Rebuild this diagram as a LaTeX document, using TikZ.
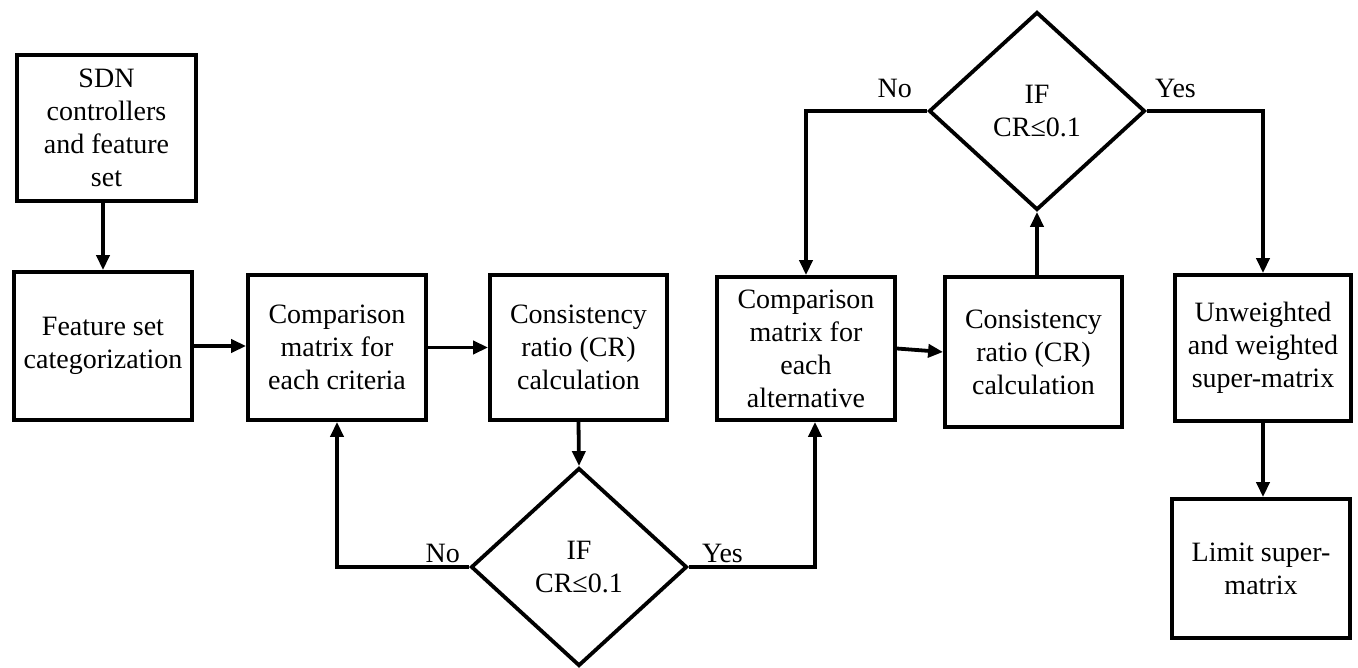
\documentclass[tikz,border=0pt]{standalone}
\usepackage{fontspec}
\setmainfont{Liberation Serif}
\usetikzlibrary{shapes.geometric,arrows.meta}
\begin{document}
\begin{tikzpicture}[x=1pt,y=-1pt,
  every node/.style={font=\fontsize{28}{33}\selectfont},
  box/.style={draw,line width=3.8pt,inner sep=0pt,align=center},
  dec/.style={draw,shape=diamond,line width=3.8pt,inner sep=0pt,align=center,minimum width=216pt,minimum height=198pt},
  conn/.style={line width=3.8pt,-{Triangle[length=15pt,width=13pt]}},
  lbl/.style={inner sep=0pt}]
\useasboundingbox (0,0) rectangle (1358,668);
\node[box,minimum width=179pt,minimum height=146pt] (sdn) at (106.5,128) {SDN\\controllers\\and feature\\set};
\node[box,minimum width=178pt,minimum height=148pt] (feat) at (103,346) {Feature set\\categorization};
\node[box,minimum width=178pt,minimum height=145pt] (comp1) at (337,347.5) {Comparison\\matrix for\\each criteria};
\node[box,minimum width=177pt,minimum height=145pt] (cons1) at (578.5,347.5) {Consistency\\ratio (CR)\\calculation};
\node[dec] (d1) at (579,567) {IF\\CR≤0.1};
\node[box,minimum width=178pt,minimum height=143pt] (comp2) at (806,348.5) {Comparison\\matrix for\\each\\alternative};
\node[box,minimum width=177pt,minimum height=150pt] (cons2) at (1033.5,352) {Consistency\\ratio (CR)\\calculation};
\node[dec] (d2) at (1037,111) {IF\\CR≤0.1};
\node[box,minimum width=176pt,minimum height=146pt] (unw) at (1263,348) {Unweighted\\and weighted\\super-matrix};
\node[box,minimum width=178pt,minimum height=139pt] (limit) at (1261,568.5) {Limit super-\\matrix};
\draw[conn] (feat.north |- sdn.south) -- (feat.north);
\draw[conn] (feat.east) -- (comp1.west |- feat.east);
\draw[conn] (comp1.east) -- (cons1.west);
\draw[conn] (cons1.south) -- (d1.north);
\draw[conn] (d1.west) -| (comp1.south);
\draw[conn] (d1.east) -| ([xshift=9pt]comp2.south);
\draw[conn] (comp2.east) -- (cons2.west);
\draw[conn] (d2.south |- cons2.north) -- (d2.south);
\draw[conn] (d2.west) -| (comp2.north);
\draw[conn] (d2.east) -| (unw.north);
\draw[conn] (unw.south) -- (unw.south |- limit.north);
\node[lbl,anchor=base east] (no1) at ([xshift=-9pt,yshift=5pt]d1.west) {No};
\node[lbl,anchor=base west] (yes1) at ([xshift=13pt,yshift=5pt]d1.east) {Yes};
\node[lbl,anchor=base east] (no2) at ([xshift=-15pt,yshift=13pt]d2.west) {No};
\node[lbl,anchor=base west] (yes2) at ([xshift=8pt,yshift=13pt]d2.east) {Yes};
\end{tikzpicture}
\end{document}
